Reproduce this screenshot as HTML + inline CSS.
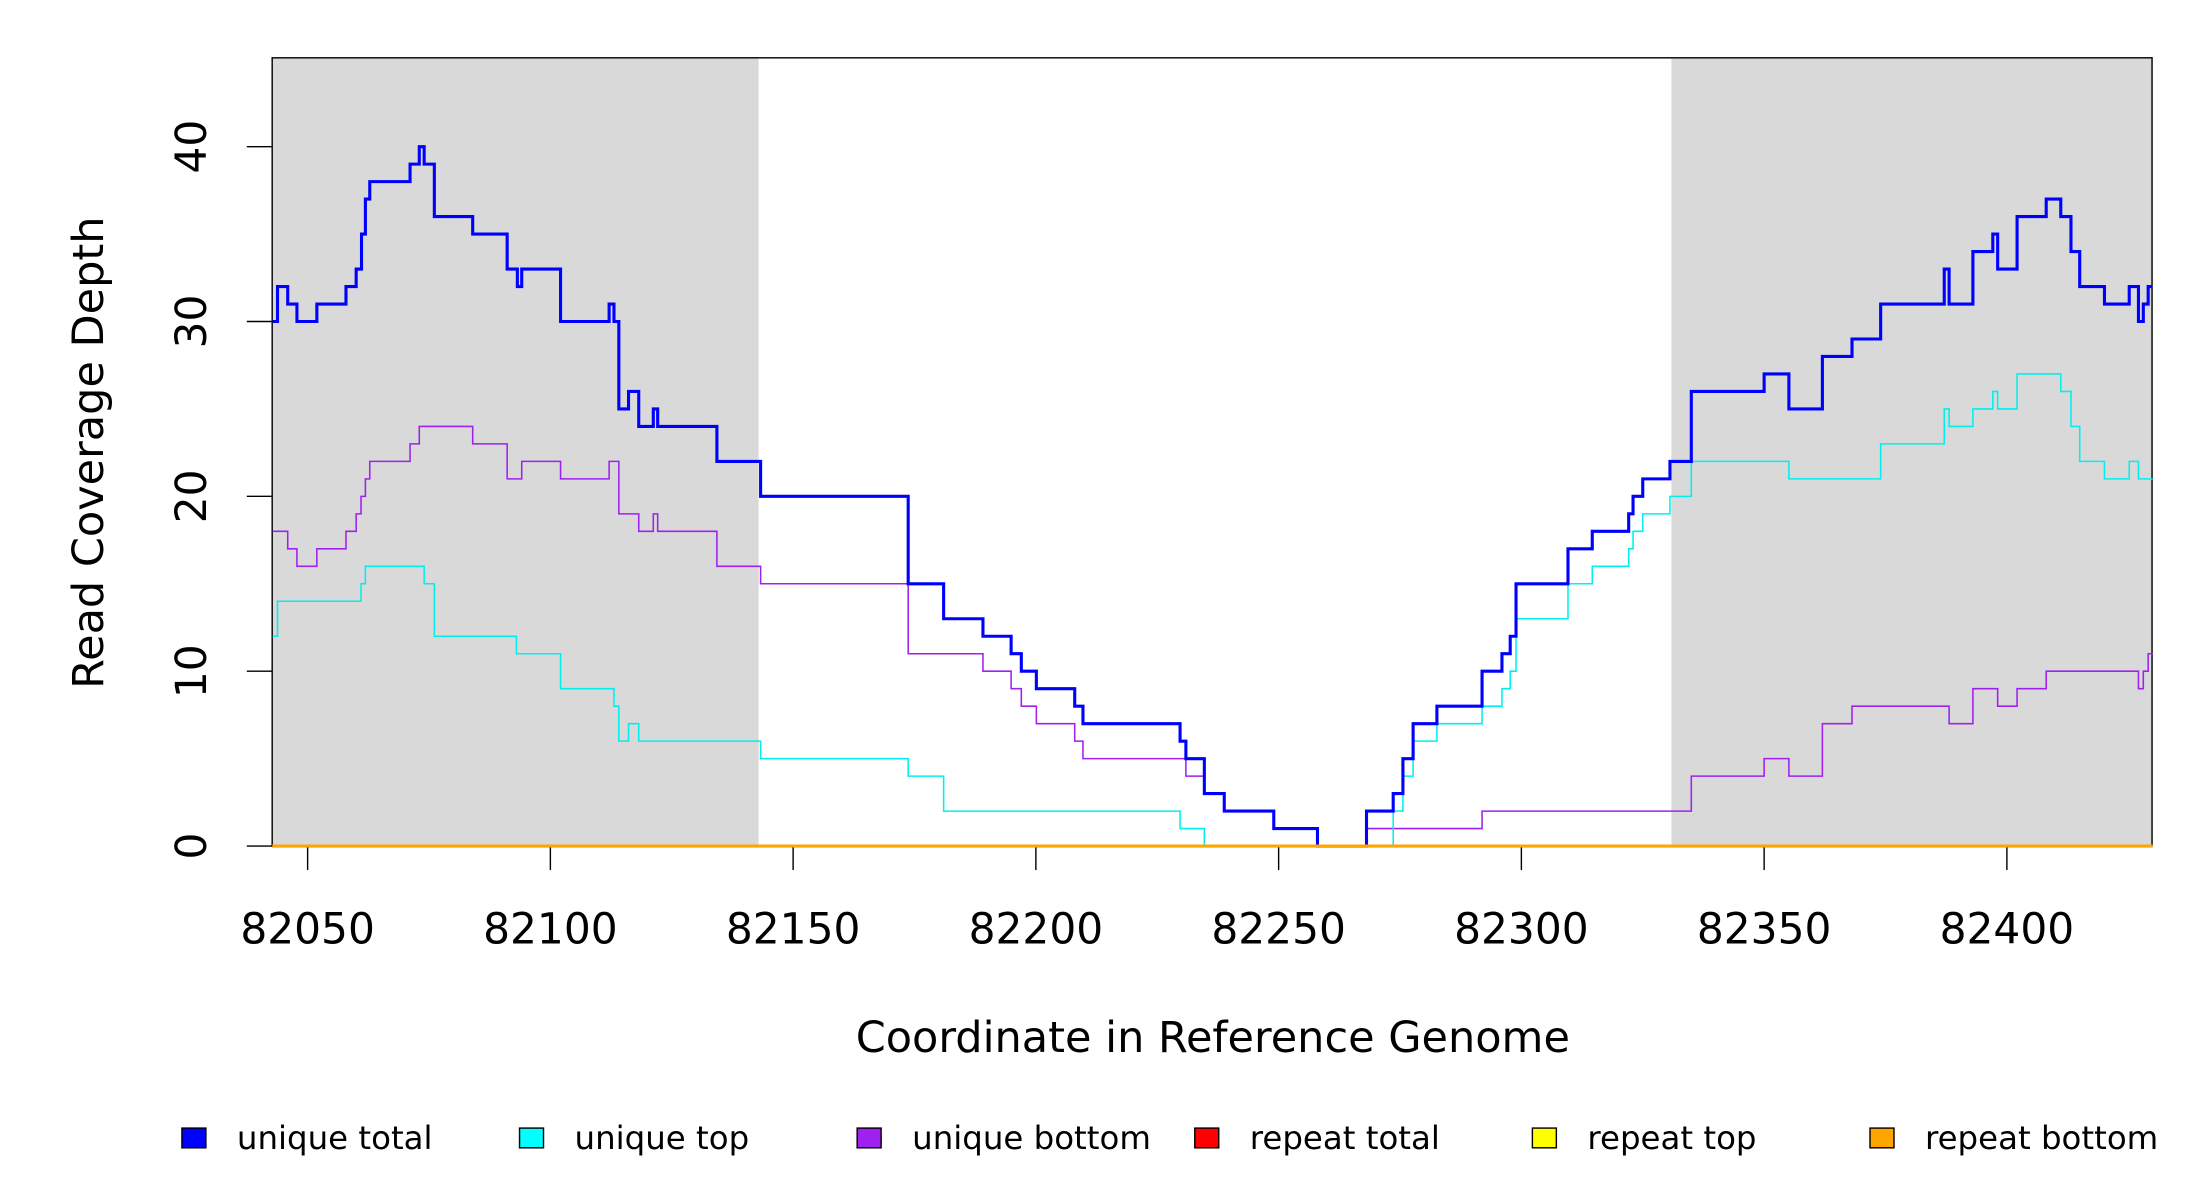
<!DOCTYPE html>
<html><head><meta charset="utf-8"><style>html,body{margin:0;padding:0;background:#fff}svg{display:block}text{font-family:"DejaVu Sans","Liberation Sans",sans-serif}</style></head>
<body>
<svg id="chart" xmlns="http://www.w3.org/2000/svg" width="2200" height="1200" viewBox="0 0 1560 851" preserveAspectRatio="none">
<g id="bg"></g>
<rect x="193" y="41" width="1333" height="559" fill="none" stroke="#000" stroke-width="1"/>
<g id="series"></g>
<g id="axes"></g>
<text x="860" y="746" font-size="30.5" text-anchor="middle">Coordinate in Reference Genome</text>
<text transform="translate(73,321) rotate(-90)" font-size="30.5" text-anchor="middle">Read Coverage Depth</text>
<g id="legend"></g>
</svg>
<script>
const xTicks = [82050,82100,82150,82200,82250,82300,82350,82400];
const yTicks = [0,10,20,30,40];
const shaded = [[82042.7,82142.9],[82330.9,82430]];
const totX = [82042.8,82043.8,82045.9,82047.8,82051.9,82057.9,82060,82061.1,82061.9,82062.8,82071.1,82073,82074,82076.1,82084,82091.1,82093.2,82094.1,82102.1,82112.1,82113.1,82114.1,82116.1,82118.2,82121.2,82122.1,82134.3,82143.3,82173.7,82181,82189.1,82194.9,82197,82200.1,82208,82209.7,82229.7,82230.9,82234.7,82238.8,82249,82258,82268.1,82273.6,82275.6,82277.7,82282.6,82291.9,82296,82297.7,82298.9,82309.6,82314.6,82322.1,82323,82325,82330.6,82335,82350,82355.1,82362,82368.1,82374,82387.1,82388.1,82393,82397.1,82398.1,82402.1,82408.1,82411.1,82413.2,82415,82420.1,82425.2,82427.1,82428.1,82429.1];
const totY = [30,32,31,30,31,32,33,35,37,38,39,40,39,36,35,33,32,33,30,31,30,25,26,24,25,24,22,20,15,13,12,11,10,9,8,7,6,5,3,2,1,0,2,3,5,7,8,10,11,12,15,17,18,19,20,21,22,26,27,25,28,29,31,33,31,34,35,33,36,37,36,34,32,31,32,30,31,32];
const topX = [82042.8,82043.8,82061,82061.9,82074,82076.1,82093,82102.1,82113.1,82114.1,82116.1,82118.2,82143.3,82173.7,82181,82229.7,82234.7,82273.6,82275.6,82277.7,82282.6,82291.9,82296,82297.7,82298.9,82309.6,82314.6,82322.1,82323,82325,82330.6,82335,82355.1,82374,82387.1,82388.1,82393,82397.1,82398.1,82402.1,82411.1,82413.2,82415,82420.1,82425.2,82427.1];
const topY = [12,14,15,16,15,12,11,9,8,6,7,6,5,4,2,1,0,2,4,6,7,8,9,10,13,15,16,17,18,19,20,22,21,23,25,24,25,26,25,27,26,24,22,21,22,21];
const botX = [82042.8,82045.9,82047.8,82051.9,82057.9,82060,82061,82061.9,82062.8,82071.1,82073,82084,82091.1,82094.1,82102.1,82112.1,82114.1,82118.2,82121.2,82122.1,82134.3,82143.3,82173.7,82189.1,82194.9,82197,82200.1,82208,82209.7,82230.9,82234.7,82238.8,82249,82258,82268.1,82291.9,82335,82350,82355.1,82362,82368.1,82388.1,82393,82398.1,82402.1,82408.1,82427.1,82428.1,82429.1];
const botY = [18,17,16,17,18,19,20,21,22,23,24,23,21,22,21,22,19,18,19,18,16,15,11,10,9,8,7,6,5,4,3,2,1,0,1,2,4,5,4,7,8,7,9,8,9,10,9,10,11];
const xEnd = 82430;
const X0=82042.7, X1=82429.9, PL=193, PR=1526, PB=600;
const sx = v => PL + (v - X0) * (PR - PL) / (X1 - X0);
const sy = v => PB - v * 12.4;
const NS = 'http://www.w3.org/2000/svg';
function mk(tag, attrs, parent){const e=document.createElementNS(NS,tag);for(const k in attrs)e.setAttribute(k,attrs[k]);parent.appendChild(e);return e;}
const bg=document.getElementById('bg');
shaded.forEach(r=>{const e=mk('rect',{x:sx(r[0]),y:41,width:sx(r[1])-sx(r[0]),height:559,fill:'#d9d9d9'},bg);

});
function stepPath(xs, ys){let d='';for(let i=0;i<xs.length;i++){const x=sx(xs[i]),y=sy(ys[i]);const nx=sx(i+1<xs.length?xs[i+1]:xEnd);d+=(i===0?'M':'L')+x+','+y+'L'+nx+','+y;}return d;}
const sg=document.getElementById('series');
let p=mk('path',{d:stepPath(botX,botY),fill:'none',stroke:'#a020f0','stroke-width':1.1},sg);


p=mk('path',{d:stepPath(topX,topY),fill:'none',stroke:'#00f0f0','stroke-width':1.1},sg);


p=mk('path',{d:stepPath(totX,totY),fill:'none',stroke:'#0000ff','stroke-width':2.2},sg);


p=mk('path',{d:'M'+sx(X0)+','+sy(0)+'L'+sx(xEnd)+','+sy(0),fill:'none',stroke:'#ffa500','stroke-width':2.2},sg);


const ax=document.getElementById('axes');
xTicks.forEach(t=>{const x=sx(t);mk('line',{x1:x,x2:x,y1:601,y2:617,stroke:'#000','stroke-width':1},ax);
const tx=mk('text',{x:x,y:669,'font-size':30,'text-anchor':'middle'},ax);tx.textContent=t;

});
yTicks.forEach(t=>{const y=sy(t);mk('line',{x1:175,x2:193,y1:y,y2:y,stroke:'#000','stroke-width':1},ax);
const tx=mk('text',{transform:'translate(146,'+y+') rotate(-90)','font-size':30,'text-anchor':'middle'},ax);tx.textContent=t;

});
const legNames=['unique total','unique top','unique bottom','repeat total','repeat top','repeat bottom'];
const legColors=['#0000ff','#00ffff','#a020f0','#ff0000','#ffff00','#ffa500'];
const lg=document.getElementById('legend');
legNames.forEach((n,i)=>{const x=129+i*239.4;
const r=mk('rect',{x:x,y:800,width:17,height:14,fill:legColors[i],stroke:'#000','stroke-width':1},lg);


const t=mk('text',{x:x+39,y:815,'font-size':23},lg);t.textContent=n;

});
</script>
</body></html>
